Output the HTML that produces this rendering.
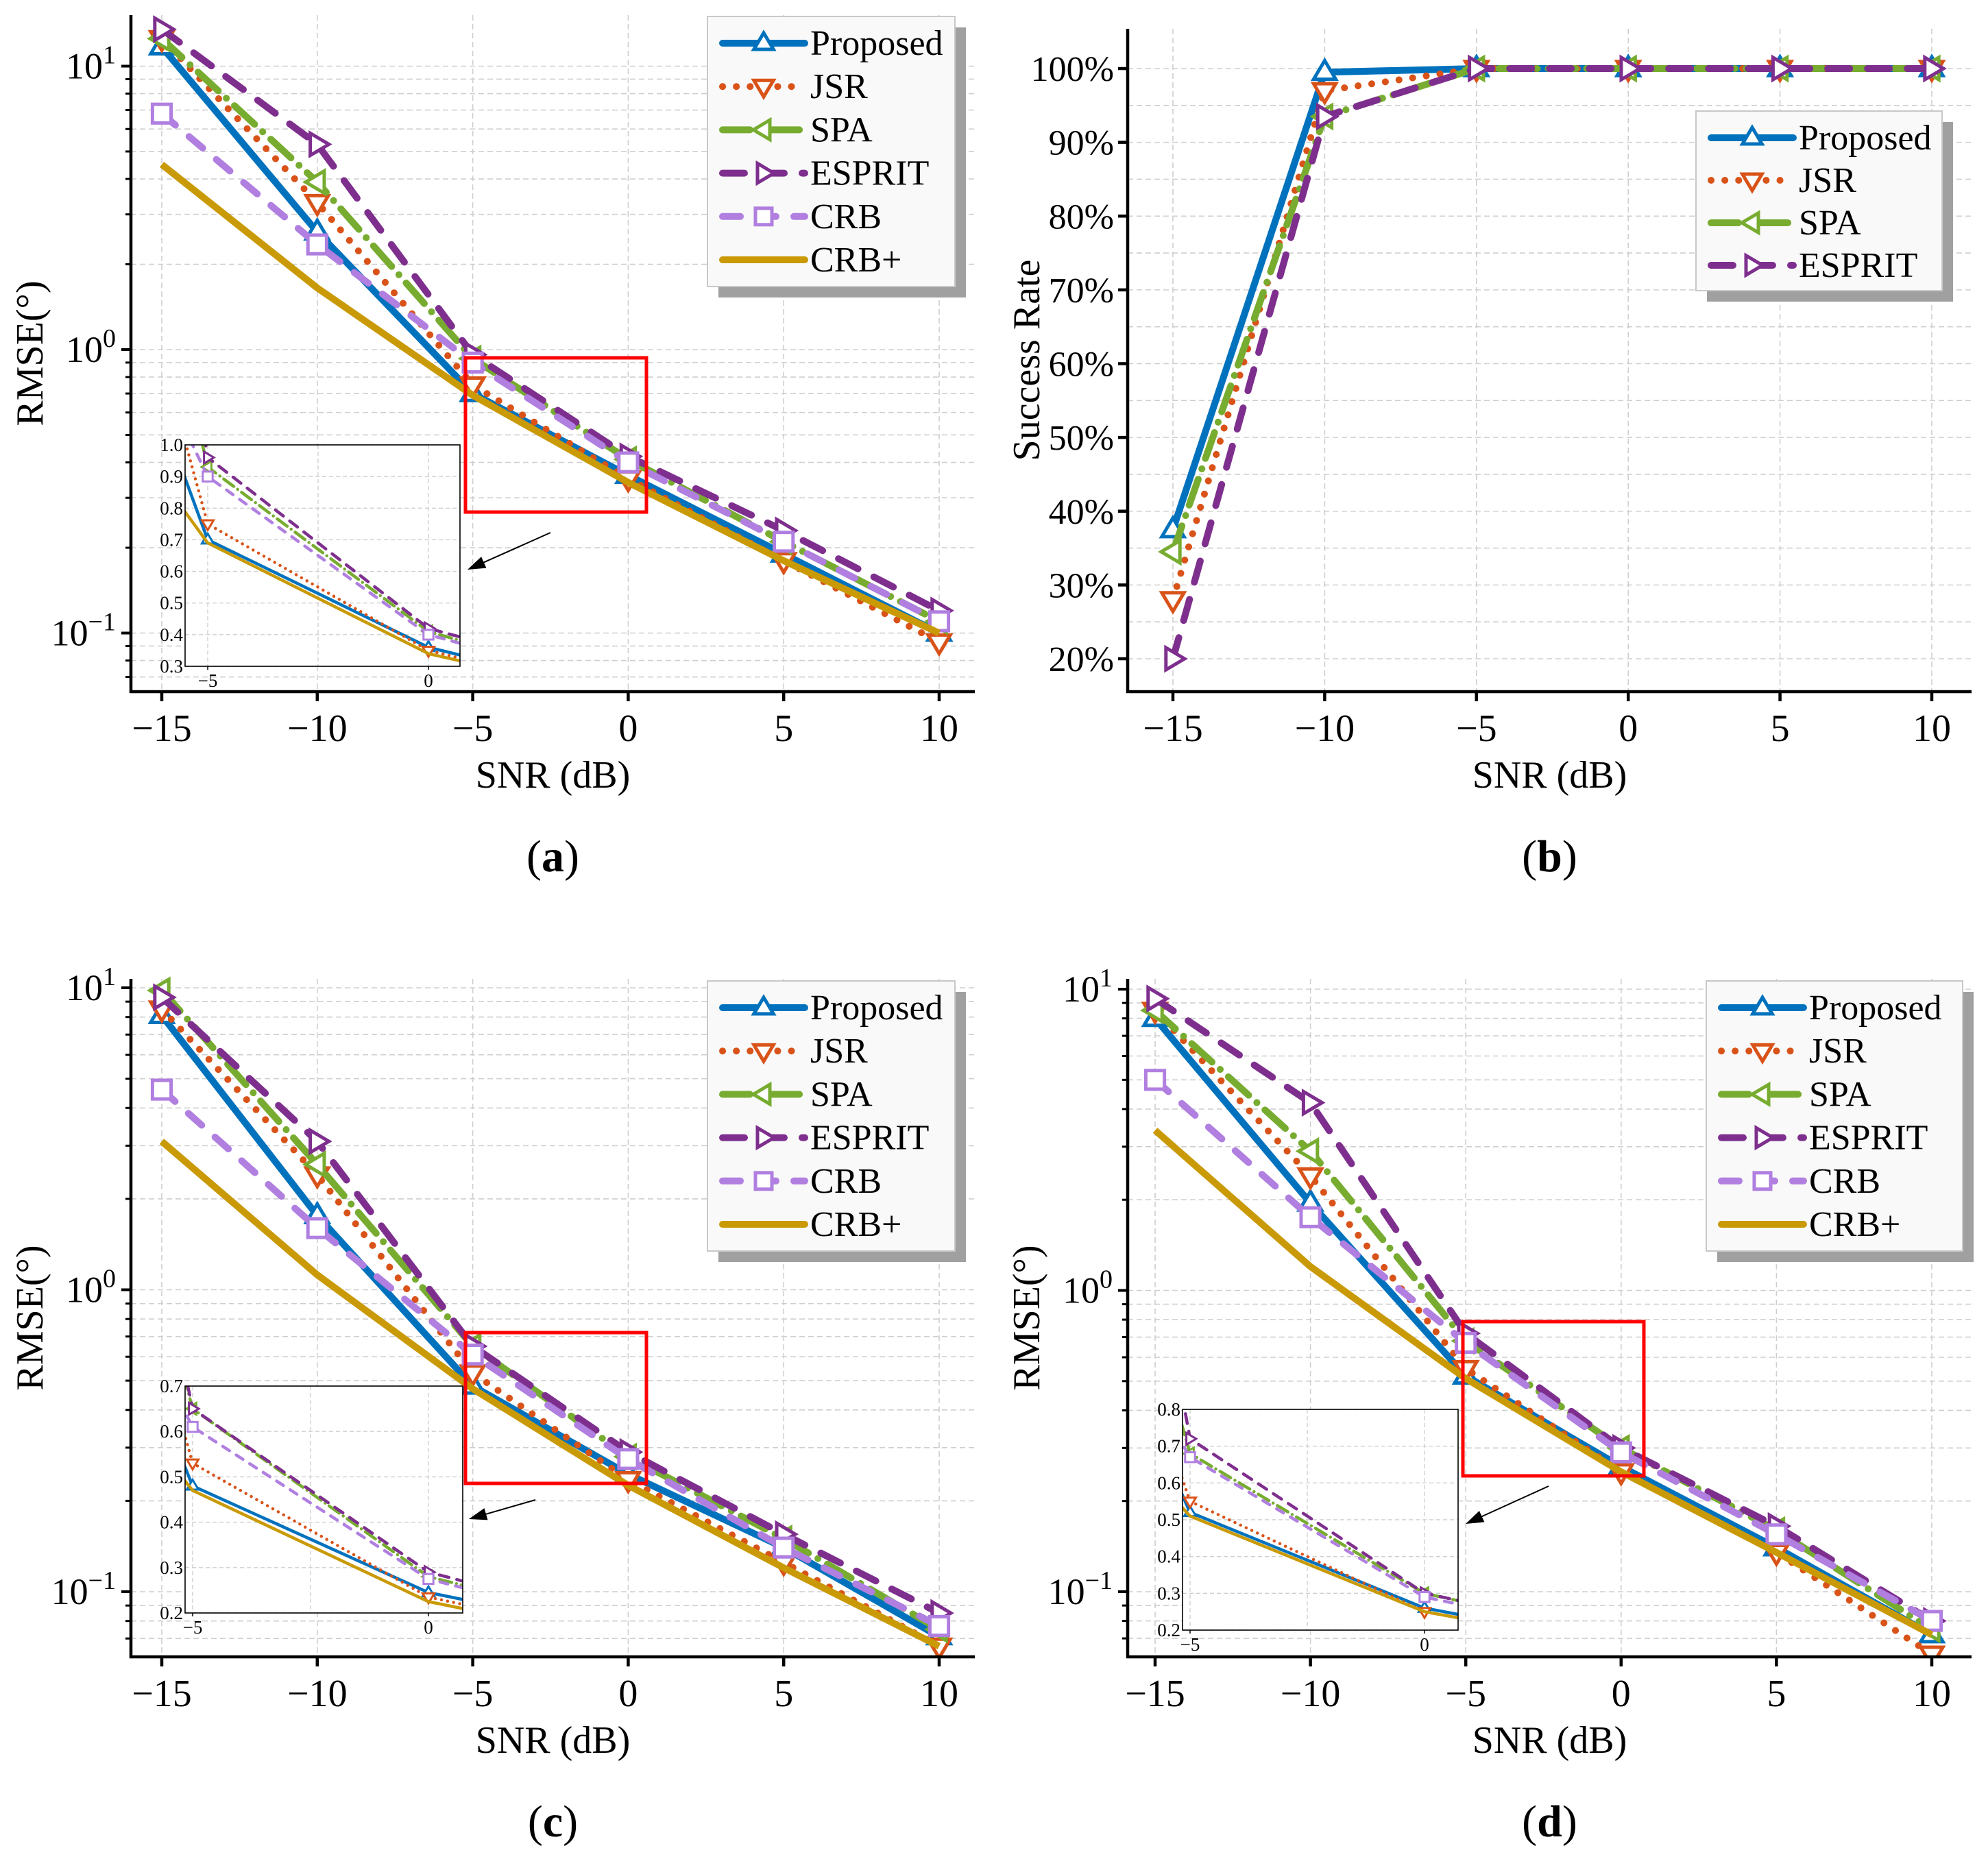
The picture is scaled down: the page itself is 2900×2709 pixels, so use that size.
<!DOCTYPE html>
<html><head><meta charset="utf-8">
<style>
html,body{margin:0;padding:0;background:#fff;font-family:"Liberation Serif","Times New Roman",serif;}
svg{display:block;}
svg text{font-family:"Liberation Serif","Times New Roman",serif;}
</style></head>
<body>
<svg id="fig" xmlns="http://www.w3.org/2000/svg" width="2900" height="2709" viewBox="0 0 2900 2709" font-family="Liberation Serif, Times New Roman, serif"></svg>
<script>
const snr = [-15, -10, -5, 0, 5, 10];
const seriesNames = ["Proposed", "JSR", "SPA", "ESPRIT", "CRB", "CRB+"];
// panel (a) RMSE
const aProposed = [11.7, 2.6, 0.70, 0.36, 0.19, 0.100];
const aJSR = [12.5, 3.3, 0.75, 0.35, 0.18, 0.093];
const aSPA = [12.5, 3.9, 0.93, 0.41, 0.21, 0.110];
const aESPRIT = [13.5, 5.3, 0.96, 0.42, 0.23, 0.120];
const aCRB = [6.8, 2.35, 0.90, 0.40, 0.21, 0.110];
const aCRBp = [4.5, 1.65, 0.69, 0.34, 0.18, 0.100];
// panel (b) success rate (%)
const bProposed = [37.5, 99.5, 100, 100, 100, 100];
const bJSR = [28, 97, 100, 100, 100, 100];
const bSPA = [34.5, 93.5, 100, 100, 100, 100];
const bESPRIT = [20, 93.5, 100, 100, 100, 100];
// panel (c) RMSE
const cProposed = [8.1, 1.76, 0.48, 0.245, 0.14, 0.071];
const cJSR = [8.5, 2.4, 0.53, 0.235, 0.125, 0.066];
const cSPA = [9.8, 2.6, 0.65, 0.28, 0.15, 0.075];
const cESPRIT = [9.3, 3.1, 0.65, 0.29, 0.155, 0.085];
const cCRB = [4.6, 1.6, 0.61, 0.275, 0.14, 0.077];
const cCRBp = [3.1, 1.12, 0.47, 0.225, 0.12, 0.066];
// panel (d) RMSE
const dProposed = [8.0, 1.95, 0.52, 0.26, 0.14, 0.072];
const dJSR = [8.5, 2.4, 0.55, 0.25, 0.135, 0.062];
const dSPA = [8.5, 2.9, 0.68, 0.30, 0.16, 0.075];
const dESPRIT = [9.3, 4.2, 0.72, 0.30, 0.165, 0.080];
const dCRB = [5.0, 1.75, 0.67, 0.29, 0.155, 0.080];
const dCRBp = [3.4, 1.2, 0.51, 0.25, 0.135, 0.072];
const xTicks = [-15, -10, -5, 0, 5, 10];
const logTicks = [-1, 0, 1];
const pctTicks = [20, 30, 40, 50, 60, 70, 80, 90, 100];

const NS = "http://www.w3.org/2000/svg";
const FONT = "Liberation Serif, Times New Roman, serif";
const svg = document.getElementById("fig");
function mk(tag, attrs, parent) {
  const e = document.createElementNS(NS, tag);
  for (const k in attrs) e.setAttribute(k, attrs[k]);
  (parent || svg).appendChild(e);
  return e;
}
const STY = [
  {c:"#0072BD", dash:"", m:"up"},
  {c:"#D95319", dash:"0.1 20", m:"down"},
  {c:"#77AC30", dash:"40 16 0.1 16", m:"left"},
  {c:"#7E2F8E", dash:"32 26", m:"right"},
  {c:"#B07FE0", dash:"26 26", m:"square"},
  {c:"#C99A06", dash:"", m:""}
];
function marker(g, type, x, y, r, color, sw) {
  let e;
  if (type === "square") {
    e = mk("rect", {x:x-r*0.8, y:y-r*0.8, width:r*1.6, height:r*1.6, fill:"#fff", stroke:color, "stroke-width":sw}, g);
  } else {
    let pts;
    if (type === "up") pts = [[x,y-r],[x+r*0.95,y+r*0.6],[x-r*0.95,y+r*0.6]];
    if (type === "down") pts = [[x,y+r],[x+r*0.95,y-r*0.6],[x-r*0.95,y-r*0.6]];
    if (type === "left") pts = [[x-r,y],[x+r*0.6,y-r*0.95],[x+r*0.6,y+r*0.95]];
    if (type === "right") pts = [[x+r,y],[x-r*0.6,y-r*0.95],[x-r*0.6,y+r*0.95]];
    e = mk("polygon", {points:pts.map(p=>p.join(",")).join(" "), fill:"#fff", stroke:color, "stroke-width":sw, "stroke-linejoin":"miter"}, g);
  }
  
  
}
let clipId = 0;
function clip(x, y, w, h) {
  const id = "cp" + (clipId++);
  const cp = mk("clipPath", {id:id});
  mk("rect", {x:x, y:y, width:w, height:h}, cp);
  return "url(#" + id + ")";
}
function drawSeries(g, data, sx, sy, sty, lw, mr, msw, name) {
  const pts = snr.map((s,i)=>[sx(s), sy(data[i])]);
  const pl = mk("polyline", {points:pts.map(p=>p.join(",")).join(" "), fill:"none", stroke:sty.c, "stroke-width":lw, "stroke-dasharray":sty.dash ? sty.dash.split(" ").map(v=>v*lw/10).join(" ") : "none", "stroke-linecap": sty.dash ? "round" : "butt", "stroke-linejoin":"round"}, g);
  
  
  if (sty.m) pts.forEach(p=>marker(g, sty.m, p[0], p[1], mr, sty.c, msw));
}
function txt(str, x, y, size, anchor, parent, extra) {
  const t = mk("text", Object.assign({x:x, y:y, "font-size":size, "text-anchor":anchor||"middle", fill:"#000", "font-family":FONT}, extra||{}), parent);
  t.textContent = str;
  return t;
}
function legend(L, n) {
  const g = mk("g", {});
  
  
  mk("rect", {x:L.x+16, y:L.y+16, width:L.w, height:L.h, fill:"#a0a0a0"}, g);
  mk("rect", {x:L.x, y:L.y, width:L.w, height:L.h, fill:"#f9f9f9", stroke:"#c8c8c8", "stroke-width":2}, g);
  for (let i=0;i<n;i++) {
    const y = L.y0 + i*L.dy;
    const e = mk("g", {}, g);
    
    
    const s = STY[i];
    mk("line", {x1:L.x+22, y1:y, x2:L.x+142, y2:y, stroke:s.c, "stroke-width":10, "stroke-dasharray":s.dash||"none", "stroke-linecap":"round"}, e);
    if (s.m) marker(e, s.m, L.x+82, y, 15, s.c, 5);
    txt(seriesNames[i], L.x+150, y+17, 52, "start", e);
  }
}
function panelLabel(g, P) {
  const pl = mk("text",{x:(P.left+P.right)/2,y:P.bot+262,"font-size":66,"text-anchor":"middle","font-family":FONT},g);
  
  
  const p1=mk("tspan",{},pl); p1.textContent="(";
  const p2=mk("tspan",{"font-weight":"bold"},pl); p2.textContent=P.label;
  const p3=mk("tspan",{},pl); p3.textContent=")";
}
function logPanel(P, data) {
  const g = mk("g", {});
  
  
  const sx = v => P.x15 + (v+15)*(P.x10-P.x15)/25;
  const sy = v => P.y0 - Math.log10(v)*P.dec;
  const vTop = Math.pow(10, (P.y0-P.top)/P.dec), vBot = Math.pow(10,(P.y0-P.bot)/P.dec);
  const grid = mk("g", {stroke:"#cfcfcf", "stroke-width":1.6, "stroke-dasharray":"8 5"}, g);
  
  xTicks.forEach(t=>mk("line",{x1:sx(t),y1:P.top,x2:sx(t),y2:P.bot},grid));
  for (let d=-2; d<=1; d++) for (let m=1;m<10;m++) {
    const v = m*Math.pow(10,d);
    if (v<vBot || v>vTop) continue;
    mk("line",{x1:P.left,y1:sy(v),x2:P.right,y2:sy(v)},grid);
  }
  const sg = mk("g", {"clip-path":clip(P.left,P.top-30,P.right-P.left+30,P.bot-P.top+30)}, g);
  data.forEach((d,i)=>drawSeries(sg, d, sx, sy, STY[i], 10, 17, 5, seriesNames[i]));
  const ax = mk("g", {stroke:"#000", "stroke-width":4.5}, g);
  
  mk("line",{x1:P.left,y1:P.top,x2:P.left,y2:P.bot+2},ax);
  mk("line",{x1:P.left-2,y1:P.bot,x2:P.right,y2:P.bot},ax);
  xTicks.forEach(t=>{
    mk("line",{x1:sx(t),y1:P.bot,x2:sx(t),y2:P.bot+14},ax);
    const l = txt(t<0?"\u2212"+(-t):String(t), sx(t), P.bot+72, 56, "middle", g);
    
    
  });
  for (let d=-2; d<=1; d++) for (let m=1;m<10;m++) {
    const v = m*Math.pow(10,d);
    if (v<vBot || v>vTop) continue;
    mk("line",{x1:P.left-(m===1?14:8),y1:sy(v),x2:P.left,y2:sy(v),"stroke-width":m===1?4:3},ax);
  }
  logTicks.forEach(e=>{
    const y = sy(Math.pow(10,e));
    const t = mk("text",{x:P.left-22,y:y+18,"font-size":54,"text-anchor":"end","font-family":FONT},g);
    
    
    const a = mk("tspan",{},t); a.textContent="10";
    const b = mk("tspan",{dy:-22,"font-size":38}, t); b.textContent = e<0?"\u2212"+(-e):String(e);
  });
  const yl = txt("RMSE(\u00B0)", 0, 0, 56, "middle", g, {transform:`translate(${P.ylx},${(P.top+P.bot)/2}) rotate(-90)`});
  
  
  const xl = txt("SNR (dB)", (P.left+P.right)/2, P.bot+140, 56, "middle", g);
  
  
  panelLabel(g, P);
  const rb = mk("rect",{x:P.rb[0],y:P.rb[1],width:P.rb[2]-P.rb[0],height:P.rb[3]-P.rb[1],fill:"none",stroke:"#ff0000","stroke-width":5},g);
  
  
  const ar = P.ar;
  const ang = Math.atan2(ar[3]-ar[1], ar[2]-ar[0]);
  mk("line",{x1:ar[0],y1:ar[1],x2:ar[2]-Math.cos(ang)*20,y2:ar[3]-Math.sin(ang)*20,stroke:"#000","stroke-width":2},g);
  const hx=ar[2],hy=ar[3],L=26,W=9;
  mk("polygon",{points:`${hx},${hy} ${hx-L*Math.cos(ang)+W*Math.sin(ang)},${hy-L*Math.sin(ang)-W*Math.cos(ang)} ${hx-L*Math.cos(ang)-W*Math.sin(ang)},${hy-L*Math.sin(ang)+W*Math.cos(ang)}`,fill:"#000"},g);
  const I = P.inset;
  const ig = mk("g",{},g);
  
  
  mk("rect",{x:I.x0,y:I.y0,width:I.x1-I.x0,height:I.y1-I.y0,fill:"#fff"},ig);
  const isx = v => I.xm5 + (v+5)*(I.x0d-I.xm5)/5;
  const isy = v => I.y1 - (v-I.ymin)/(I.ymax-I.ymin)*(I.y1-I.y0);
  const ig2 = mk("g",{stroke:"#cfcfcf","stroke-width":1.4,"stroke-dasharray":"6 4"},ig);
  for (let v=I.ymin; v<=I.ymax+1e-9; v+=0.1) mk("line",{x1:I.x0,y1:isy(v),x2:I.x1,y2:isy(v)},ig2);
  [-5,-2.5,0].forEach(v=>mk("line",{x1:isx(v),y1:I.y0,x2:isx(v),y2:I.y1},ig2));
  const isg = mk("g",{"clip-path":clip(I.x0,I.y0,I.x1-I.x0,I.y1-I.y0)},ig);
  data.forEach((d,i)=>drawSeries(isg, d, isx, isy, STY[i], 4.5, 9, 3, seriesNames[i]));
  mk("rect",{x:I.x0,y:I.y0,width:I.x1-I.x0,height:I.y1-I.y0,fill:"none",stroke:"#000","stroke-width":1.6},ig);
  for (let v=I.ymin; v<=I.ymax+1e-9; v+=0.1) txt(v.toFixed(1), I.x0-3, isy(v)+9, 27, "end", ig);
  [-5,0].forEach(v=>{ mk("line",{x1:isx(v),y1:I.y1,x2:isx(v),y2:I.y1+5,stroke:"#000","stroke-width":1.5},ig); txt(v<0?"\u22125":"0", isx(v), I.y1+30, 27, "middle", ig); });
  legend(P.leg, 6);
}
function pctPanel(P, data) {
  const g = mk("g", {});
  
  
  const sx = v => P.x15 + (v+15)*(P.x10-P.x15)/25;
  const sy = v => P.y20 - (v-20)*(P.y20-P.y100)/80;
  const grid = mk("g", {stroke:"#cfcfcf", "stroke-width":1.6, "stroke-dasharray":"8 5"}, g);
  
  xTicks.forEach(t=>mk("line",{x1:sx(t),y1:P.top,x2:sx(t),y2:P.bot},grid));
  for (let v=20; v<=100; v+=5) mk("line",{x1:P.left,y1:sy(v),x2:P.right,y2:sy(v)},grid);
  const sg = mk("g", {}, g);
  data.forEach((d,i)=>drawSeries(sg, d, sx, sy, STY[i], 10, 17, 5, seriesNames[i]));
  const ax = mk("g", {stroke:"#000", "stroke-width":4.5}, g);
  
  mk("line",{x1:P.left,y1:P.top,x2:P.left,y2:P.bot+2},ax);
  mk("line",{x1:P.left-2,y1:P.bot,x2:P.right,y2:P.bot},ax);
  xTicks.forEach(t=>{
    mk("line",{x1:sx(t),y1:P.bot,x2:sx(t),y2:P.bot+14},ax);
    const l = txt(t<0?"\u2212"+(-t):String(t), sx(t), P.bot+72, 56, "middle", g);
    
    
  });
  pctTicks.forEach(v=>{
    mk("line",{x1:P.left-14,y1:sy(v),x2:P.left,y2:sy(v)},ax);
    const l = txt(v+"%", P.left-20, sy(v)+18, 52, "end", g);
    
    
  });
  const yl = txt("Success Rate", 0, 0, 56, "middle", g, {transform:`translate(${P.ylx},${(P.top+P.bot)/2}) rotate(-90)`});
  
  
  const xl = txt("SNR (dB)", (P.left+P.right)/2, P.bot+140, 56, "middle", g);
  
  
  panelLabel(g, P);
  legend(P.leg, 4);
}
logPanel({name:"panel-a-rmse", label:"a", left:191, right:1422, top:22, bot:1009, x15:236, x10:1370, y0:510, dec:413.5, ylx:62,
  rb:[679,522,943,747], ar:[803,777,682,831],
  inset:{x0:270,x1:671,y0:649,y1:972,xm5:303,x0d:625,ymin:0.3,ymax:1.0},
  leg:{x:1032,y:24,w:361,h:394,y0:63,dy:63.2}},
  [aProposed,aJSR,aSPA,aESPRIT,aCRB,aCRBp]);
pctPanel({name:"panel-b-success-rate", label:"b", left:1645, right:2876, top:42, bot:1009, x15:1711, x10:2818, y100:100, y20:961, ylx:1516,
  leg:{x:2474,y:162,w:359,h:262,y0:201,dy:62}},
  [bProposed,bJSR,bSPA,bESPRIT]);
logPanel({name:"panel-c-rmse", label:"c", left:191, right:1422, top:1428, bot:2417, x15:236, x10:1370, y0:1881.5, dec:440.5, ylx:62,
  rb:[679,1944,943,2164], ar:[781,2188,684,2216],
  inset:{x0:270,x1:675,y0:2022,y1:2353,xm5:281,x0d:625,ymin:0.2,ymax:0.7},
  leg:{x:1032,y:1431,w:361,h:394,y0:1470,dy:63.2}},
  [cProposed,cJSR,cSPA,cESPRIT,cCRB,cCRBp]);
logPanel({name:"panel-d-rmse", label:"d", left:1645, right:2876, top:1428, bot:2417, x15:1685, x10:2818, y0:1882.5, dec:439.5, ylx:1516,
  rb:[2134,1928,2398,2153], ar:[2259,2168,2138,2223],
  inset:{x0:1725,x1:2127,y0:2056,y1:2378,xm5:1736,x0d:2078,ymin:0.2,ymax:0.8},
  leg:{x:2489,y:1431,w:374,h:394,y0:1470,dy:63.2}},
  [dProposed,dJSR,dSPA,dESPRIT,dCRB,dCRBp]);
</script>
</body></html>
